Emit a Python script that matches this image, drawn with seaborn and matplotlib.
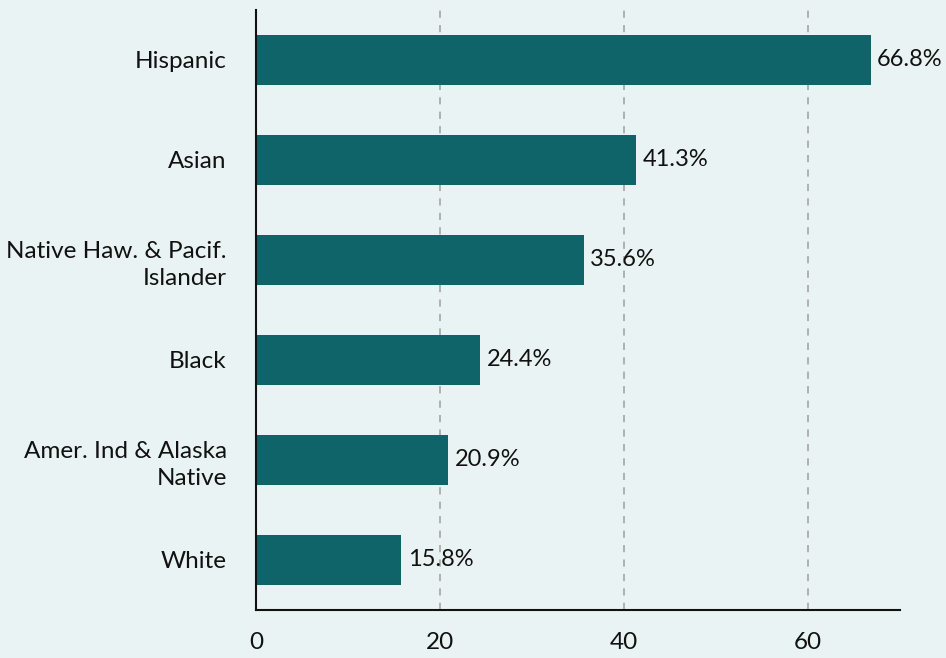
import seaborn as sns
import pandas as pd
import matplotlib.pyplot as plt

# data
groups = ["Hispanic", "Asian", "Native Haw. & Pacif.\nIslander", "Black",
          "Amer. Ind & Alaska\nNative", "White"]
values = [66.8, 41.3, 35.6, 24.4, 20.9, 15.8]
xticks = [0, 20, 40, 60]

df = pd.DataFrame({"group": groups, "value": values})

bg = "#eaf3f4"
bar_color = "#0e6468"

sns.set_style("white")
plt.rcParams['font.family'] = ['Lato', 'DejaVu Sans']

fig = plt.figure(figsize=(9.46, 6.58), dpi=100, facecolor=bg)
ax = fig.add_axes([0.2706, 0.073, 0.6808, 0.912])
ax.set_facecolor(bg)

sns.barplot(data=df, x="value", y="group", orient="h", color=bar_color,
            width=0.5, saturation=1, linewidth=0, ax=ax)

for i, v in enumerate(values):
    ax.text(v + 0.7, i, f"{v}%", va="center", ha="left", fontsize=17, color="#111111")

ax.set_xlim(0, 70)
ax.set_ylim(5.5, -0.5)
ax.set_xticks(xticks)
ax.set_xlabel("")
ax.set_ylabel("")
ax.tick_params(axis="both", length=0, labelsize=17.5, colors="#111111")
ax.tick_params(axis="x", pad=16)
ax.tick_params(axis="y", pad=21)
for lab in ax.get_yticklabels():
    lab.set_horizontalalignment("right")
    lab.set_linespacing(1.35)

for x in xticks[1:]:
    ax.axvline(x, color="#aaaaaa", linestyle=(0, (4, 4)), linewidth=1.3, zorder=0)

for s in ["top", "right"]:
    ax.spines[s].set_visible(False)
for s in ["left", "bottom"]:
    ax.spines[s].set_color("#111111")
    ax.spines[s].set_linewidth(1.5)

fig.savefig("out.png", dpi=100, facecolor=bg)
